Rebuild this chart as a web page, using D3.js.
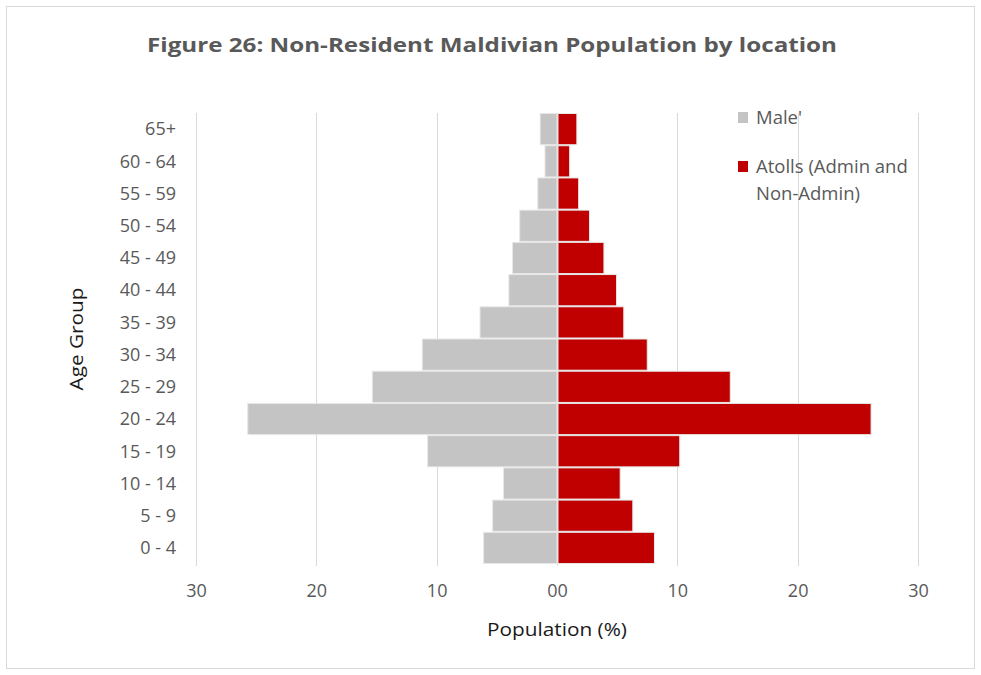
<!DOCTYPE html>
<html>
<head>
<meta charset="utf-8">
<script src="https://cdn.jsdelivr.net/npm/d3@7/dist/d3.min.js"></script>
<style>
  body { margin: 0; background: #fff; }
  svg { display: block; }
  text { font-family: "Open Sans", "Noto Sans", sans-serif; }
</style>
</head>
<body>
<svg id="chart" width="981" height="675"></svg>
<script>
const ageGroups = ["65+", "60 - 64", "55 - 59", "50 - 54", "45 - 49", "40 - 44", "35 - 39",
                   "30 - 34", "25 - 29", "20 - 24", "15 - 19", "10 - 14", "5 - 9", "0 - 4"];
const maleValues   = [1.4, 1.0, 1.6, 3.1, 3.7, 4.0, 6.4, 11.2, 15.35, 25.7, 10.75, 4.45, 5.35, 6.1];
const atollsValues = [1.65, 1.05, 1.8, 2.7, 3.9, 4.95, 5.55, 7.5, 14.4, 26.1, 10.2, 5.25, 6.3, 8.1];
const xTicks = [-30, -20, -10, 0, 10, 20, 30];
const xTickLabels = ["30", "20", "10", "00", "10", "20", "30"];
const seriesNames = ["Male'", "Atolls (Admin and Non-Admin)"];

const svg = d3.select("#chart");

// outer frame
svg.append("rect").attr("x", 6.5).attr("y", 6.5).attr("width", 968).attr("height", 662)
  .attr("fill", "#fff").attr("stroke", "#d9d9d9").attr("stroke-width", 1);

const x = d3.scaleLinear().domain([-30, 30]).range([196, 918]);
const y = d3.scaleBand().domain(ageGroups).range([113, 564]).padding(0);

// gridlines
svg.append("g").selectAll("line").data(xTicks).join("line")
  .attr("x1", d => Math.round(x(d)) + 0.5).attr("x2", d => Math.round(x(d)) + 0.5)
  .attr("y1", 113).attr("y2", 566)
  .attr("stroke", "#d9d9d9").attr("stroke-width", 1);

// bars
const g = svg.append("g");
g.selectAll("rect.male").data(ageGroups).join("rect").attr("class", "male")
  .attr("x", (d, i) => x(-maleValues[i]))
  .attr("width", (d, i) => x(0) - x(-maleValues[i]))
  .attr("y", d => y(d) + 0.5).attr("height", y.bandwidth() - 1)
  .attr("fill", "#c4c4c4").attr("stroke", "#e8e8e8").attr("stroke-width", 1);
g.selectAll("rect.atoll").data(ageGroups).join("rect").attr("class", "atoll")
  .attr("x", x(0) + 1)
  .attr("width", (d, i) => x(atollsValues[i]) - x(0) - 1)
  .attr("y", d => y(d) + 0.5).attr("height", y.bandwidth() - 1)
  .attr("fill", "#c00000").attr("stroke", "#e8e8e8").attr("stroke-width", 1);

// y axis labels
const yAxis = d3.axisLeft(y).tickSize(0).tickPadding(0);
const yg = svg.append("g").attr("transform", "translate(176,0)").call(yAxis);
yg.select(".domain").remove();
yg.selectAll("text").attr("fill", "#595959").attr("font-size", 18).attr("dy", "0.35em");

// x axis labels
const xAxis = d3.axisBottom(x).tickValues(xTicks).tickSize(0).tickPadding(0)
  .tickFormat((d, i) => xTickLabels[i]);
const xg = svg.append("g").attr("transform", "translate(0,591)").call(xAxis);
xg.select(".domain").remove();
xg.selectAll("text").attr("fill", "#595959").attr("font-size", 18).attr("dy", "0.35em");

// title
svg.append("text").attr("x", 492).attr("y", 52).attr("text-anchor", "middle")
  .attr("font-size", 20).attr("font-weight", "bold").attr("fill", "#595959")
  .attr("textLength", 690).attr("lengthAdjust", "spacingAndGlyphs")
  .text("Figure 26: Non-Resident Maldivian Population by location");

// axis titles
svg.append("text").attr("x", 557).attr("y", 636).attr("text-anchor", "middle")
  .attr("font-size", 19).attr("fill", "#1a1a1a")
  .attr("textLength", 140).attr("lengthAdjust", "spacingAndGlyphs")
  .text("Population (%)");
svg.append("text").attr("transform", "translate(83,339) rotate(-90)").attr("text-anchor", "middle")
  .attr("font-size", 19).attr("fill", "#1a1a1a")
  .attr("textLength", 103).attr("lengthAdjust", "spacingAndGlyphs")
  .text("Age Group");

// legend
const legend = svg.append("g");
legend.append("rect").attr("x", 738).attr("y", 112).attr("width", 10).attr("height", 11).attr("fill", "#c4c4c4");
legend.append("text").attr("x", 756).attr("y", 124).attr("font-size", 18.5).attr("fill", "#595959").text(seriesNames[0]);
legend.append("rect").attr("x", 738).attr("y", 161).attr("width", 10).attr("height", 11).attr("fill", "#c00000");
legend.append("text").attr("x", 756).attr("y", 173).attr("font-size", 18.5).attr("fill", "#595959").text("Atolls (Admin and");
legend.append("text").attr("x", 756).attr("y", 200).attr("font-size", 18.5).attr("fill", "#595959").text("Non-Admin)");
</script>
</body>
</html>
